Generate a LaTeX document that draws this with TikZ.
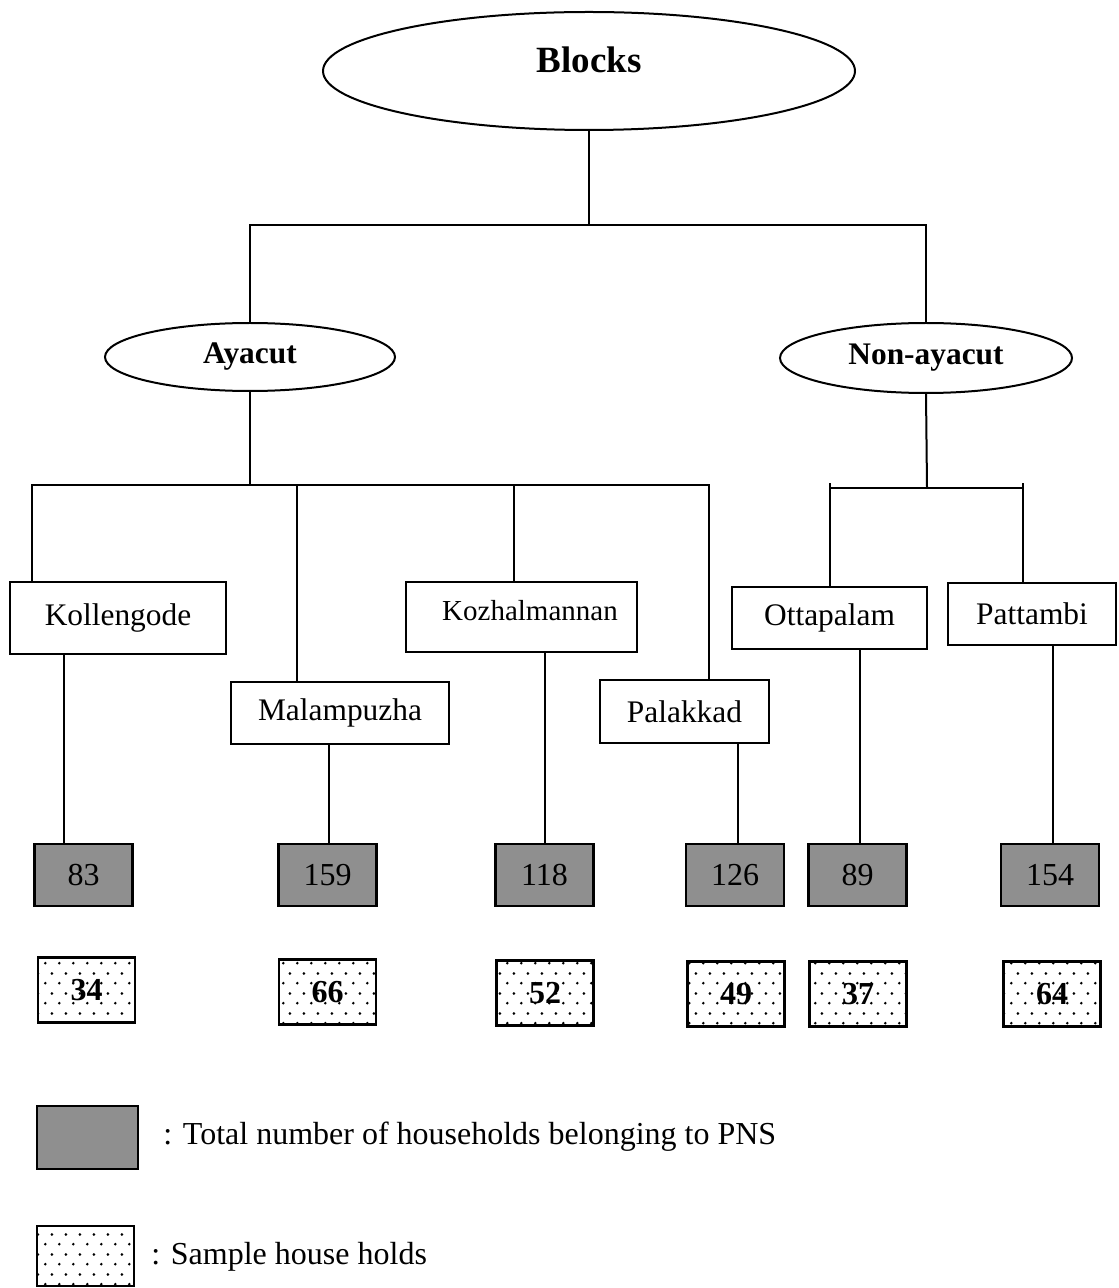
\documentclass[tikz,border=0pt]{standalone}
\usepackage{fontspec}
\setmainfont{Liberation Serif}
\usetikzlibrary{shapes.geometric,patterns}
\pgfdeclarepatternformonly{sparsedots}{\pgfpointorigin}{\pgfpoint{7pt}{10pt}}{\pgfpoint{7pt}{10pt}}{%
  \pgfpathcircle{\pgfpoint{1.75pt}{2.5pt}}{0.75pt}%
  \pgfpathcircle{\pgfpoint{5.25pt}{7.5pt}}{0.75pt}%
  \pgfusepath{fill}}
\tikzset{
  oval/.style={draw,ellipse,line width=1pt,inner sep=0pt,font=\fontsize{15.7}{18}\selectfont\bfseries},
  place/.style={draw,rectangle,line width=1.1pt,inner sep=0pt,font=\fontsize{15.7}{18}\selectfont},
  total/.style={draw,rectangle,line width=1.2pt,inner sep=0pt,fill=black!44,minimum width=49pt,minimum height=31pt,font=\fontsize{16}{18}\selectfont},
  sample/.style={draw,rectangle,line width=1.2pt,inner sep=0pt,pattern=sparsedots,minimum width=48.5pt,minimum height=32.5pt,font=\fontsize{16}{18}\selectfont\bfseries},
  link/.style={line width=1pt},
  legtext/.style={anchor=west,inner sep=0pt,font=\fontsize{16}{18}\selectfont}
}
\begin{document}
\begin{tikzpicture}[x=0.5pt,y=-0.5pt]
\useasboundingbox (0,0) rectangle (1118,1288);
% top level
\node[oval,minimum width=266pt,minimum height=59pt] (blocks) at (589,71) {};
\node[inner sep=0pt,font=\fontsize{18.5}{22}\selectfont\bfseries] (blockstxt) at ([yshift=5.5pt]blocks.center) {Blocks};
\node[oval,minimum width=145pt,minimum height=34pt] (aya) at (250,357) {Ayacut};
\node[oval,minimum width=146pt,minimum height=35pt] (non) at (926,358) {Non-ayacut};
% blocks
\node[place,minimum width=108pt,minimum height=36pt] (koll) at (118,618) {Kollengode};
\node[place,minimum width=109pt,minimum height=31pt] (mala) at (340,713) {Malampuzha};
\node[place,minimum width=115.5pt,minimum height=35pt] (kozh) at (521.5,617) {};
\node[inner sep=0pt,font=\fontsize{14.5}{17}\selectfont] (kozhtxt) at ([xshift=4.25pt,yshift=3pt]kozh.center) {Kozhalmannan};
\node[place,minimum width=84.5pt,minimum height=31.5pt] (pala) at (684.5,711.5) {Palakkad};
\node[place,minimum width=97.5pt,minimum height=31pt] (otta) at (829.5,618) {Ottapalam};
\node[place,minimum width=84pt,minimum height=31pt] (patt) at (1032,614) {Pattambi};
% totals
\node[total] (d83) at (83.5,875) {83};
\node[total] (d159) at (327.5,875) {159};
\node[total] (d118) at (544.5,875) {118};
\node[total] (d126) at (735,875) {126};
\node[total] (d89) at (857.5,875) {89};
\node[total] (d154) at (1050,875) {154};
% samples
\node[sample] (s34) at (86.5,990) {34};
\node[sample] (s66) at (327.5,992) {66};
\node[sample] (s52) at (545,993) {52};
\node[sample] (s49) at (736,994) {49};
\node[sample] (s37) at (858,994) {37};
\node[sample] (s64) at (1052,994) {64};
% legend
\node[total,minimum width=50.5pt,minimum height=31.5pt] (legd) at (87.5,1137.5) {};
\node[sample,minimum width=48.5pt,minimum height=30pt] (legs) at (85.5,1256) {};
\node[legtext] (legdt) at (163,1137) {: Total number of households belonging to PNS};
\node[legtext] (legst) at (151,1257) {: Sample house holds};
% connectors: blocks level
\coordinate (bbar) at (589,225);
\draw[link] (blocks.south) -- (bbar);
\draw[link] (aya.north) |- (bbar);
\draw[link] (non.north) |- (bbar);
% ayacut level
\coordinate (abar) at (250,485);
\draw[link] (aya.south) -- (abar);
\draw[link] ([xshift=-43pt]koll.north) |- (abar);
\draw[link] ([xshift=12.25pt]pala.north) |- (abar);
\draw[link] ([xshift=-21.5pt]mala.north) -- ([xshift=-21.5pt]mala.north |- abar);
\draw[link] ([xshift=-3.75pt]kozh.north) -- ([xshift=-3.75pt]kozh.north |- abar);
% non-ayacut level
\coordinate (nbar) at (927,488);
\coordinate (ntick) at (927,483);
\draw[link] (non.south) -- (nbar);
\draw[link] (otta.north) -- (otta.north |- ntick);
\draw[link] ([xshift=-4.5pt]patt.north) -- ([xshift=-4.5pt]patt.north |- ntick);
\draw[link] (otta.north |- nbar) -- ([xshift=-4.5pt]patt.north |- nbar);
% down to totals
\draw[link] ([xshift=-27pt]koll.south) -- ([xshift=-27pt]koll.south |- d83.north);
\draw[link] ([xshift=-5.5pt]mala.south) -- ([xshift=-5.5pt]mala.south |- d159.north);
\draw[link] ([xshift=11.75pt]kozh.south) -- ([xshift=11.75pt]kozh.south |- d118.north);
\draw[link] ([xshift=26.75pt]pala.south) -- ([xshift=26.75pt]pala.south |- d126.north);
\draw[link] ([xshift=15.25pt]otta.south) -- ([xshift=15.25pt]otta.south |- d89.north);
\draw[link] ([xshift=10.5pt]patt.south) -- ([xshift=10.5pt]patt.south |- d154.north);
\end{tikzpicture}
\end{document}
